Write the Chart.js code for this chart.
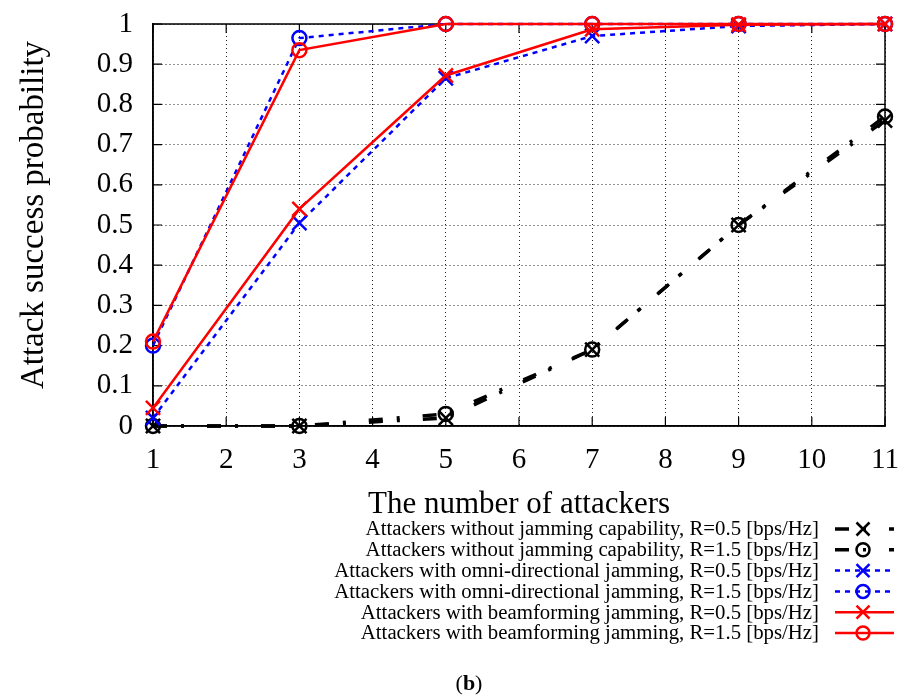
<!DOCTYPE html>
<html>
<head>
<meta charset="utf-8">
<script src="https://cdn.jsdelivr.net/npm/chart.js@4.4.1/dist/chart.umd.min.js"></script>
<style>
  html, body { margin: 0; padding: 0; background: #fff; }
  #wrap { position: relative; width: 908px; height: 697px; }
</style>
</head>
<body>
<div id="wrap"><canvas id="c" width="908" height="697"></canvas></div>
<script>
// ---- data ----
const xValues = [1, 3, 5, 7, 9, 11];
const noJamR05 = [0, 0, 0.02, 0.19, 0.50, 0.76];
const noJamR15 = [0, 0, 0.03, 0.19, 0.50, 0.77];
const omniR05  = [0.02, 0.505, 0.865, 0.97, 0.995, 1];
const omniR15  = [0.20, 0.965, 1, 1, 1, 1];
const beamR05  = [0.045, 0.54, 0.872, 0.987, 0.998, 1];
const beamR15  = [0.21, 0.935, 1, 1, 1, 1];
const xTickLabels = ['1','2','3','4','5','6','7','8','9','10','11'];
const yTickLabels = ['0','0.1','0.2','0.3','0.4','0.5','0.6','0.7','0.8','0.9','1'];
const seriesNames = [
  'Attackers without jamming capability, R=0.5 [bps/Hz]',
  'Attackers without jamming capability, R=1.5 [bps/Hz]',
  'Attackers with omni-directional jamming, R=0.5 [bps/Hz]',
  'Attackers with omni-directional jamming, R=1.5 [bps/Hz]',
  'Attackers with beamforming jamming, R=0.5 [bps/Hz]',
  'Attackers with beamforming jamming, R=1.5 [bps/Hz]'
];
const xTitle = 'The number of attackers';
const yTitle = 'Attack success probability';
const caption = 'b';

const SERIF = '"Liberation Serif", "DejaVu Serif", serif';
const BLACK = '#000000', BLUE = '#0000ff', RED = '#ff0000';

function pts(vals) { return vals.map((v, i) => ({ x: xValues[i], y: v })); }

function mk(label, vals, color, style, dash, width, order) {
  const r = style === 'circle' ? 7 : 10;
  return {
    label, data: pts(vals),
    borderColor: color, backgroundColor: 'rgba(0,0,0,0)',
    pointBorderColor: color, pointBackgroundColor: 'rgba(0,0,0,0)',
    pointStyle: style, pointRadius: r, pointBorderWidth: 2.5,
    pointHoverRadius: r,
    borderWidth: width, borderDash: dash, tension: 0, clip: false, order
  };
}

const DASHDOT = [14, 14, 3, 23];
const datasets = [
  mk(seriesNames[0], noJamR05, BLACK, 'crossRot', DASHDOT, 3.4, 2),
  mk(seriesNames[1], noJamR15, BLACK, 'circle',   DASHDOT, 3.4, 2),
  mk(seriesNames[2], omniR05,  BLUE,  'crossRot', [5, 5], 2.5, 1),
  mk(seriesNames[3], omniR15,  BLUE,  'circle',   [5, 5], 2.5, 1),
  mk(seriesNames[4], beamR05,  RED,   'crossRot', [], 2.5, 0),
  mk(seriesNames[5], beamR15,  RED,   'circle',   [], 2.5, 0)
];

const framePlugin = {
  id: 'frame',
  beforeDatasetsDraw(chart) {
    const { ctx, chartArea: a, scales: { x, y } } = chart;
    ctx.save();
    ctx.strokeStyle = '#000';
    ctx.lineWidth = 1.5;
    ctx.setLineDash([]);
    ctx.strokeRect(a.left, a.top, a.right - a.left, a.bottom - a.top);
    const t = 9;
    ctx.lineWidth = 1.2;
    ctx.beginPath();
    xTickLabels.forEach((lab) => {
      const px = x.getPixelForValue(Number(lab));
      ctx.moveTo(px, a.bottom); ctx.lineTo(px, a.bottom - t);
      ctx.moveTo(px, a.top); ctx.lineTo(px, a.top + t);
    });
    yTickLabels.forEach((lab) => {
      const py = y.getPixelForValue(Number(lab));
      ctx.moveTo(a.left, py); ctx.lineTo(a.left + t, py);
      ctx.moveTo(a.right, py); ctx.lineTo(a.right - t, py);
    });
    ctx.stroke();
    // y axis title
    ctx.fillStyle = '#000';
    ctx.font = '33px ' + SERIF;
    ctx.textAlign = 'center';
    ctx.textBaseline = 'middle';
    ctx.translate(34, 215);
    ctx.rotate(-Math.PI / 2);
    ctx.fillText(yTitle, 0, 0);
    ctx.restore();
  },
  afterDraw(chart) {
    const { ctx } = chart;
    ctx.save();
    // legend
    const textRight = 819, x0 = 835, x1 = 894, xm = 863;
    const rowTop = 529, rowStep = 20.8;
    ctx.font = '20.8px ' + SERIF;
    ctx.textAlign = 'right';
    ctx.textBaseline = 'middle';
    chart.data.datasets.forEach((ds, i) => {
      const yy = rowTop + i * rowStep;
      ctx.fillStyle = '#000';
      ctx.fillText(ds.label, textRight, yy + 1);
      ctx.strokeStyle = ds.borderColor;
      ctx.lineWidth = ds.borderWidth;
      ctx.setLineDash(ds.borderDash);
      ctx.lineDashOffset = 0;
      ctx.beginPath();
      ctx.moveTo(x0, yy); ctx.lineTo(x1, yy);
      ctx.stroke();
      ctx.setLineDash([]);
      ctx.lineWidth = ds.pointBorderWidth;
      ctx.beginPath();
      if (ds.pointStyle === 'circle') {
        ctx.arc(xm, yy, 6.5, 0, Math.PI * 2);
      } else {
        const d = 6.5;
        ctx.moveTo(xm - d, yy - d); ctx.lineTo(xm + d, yy + d);
        ctx.moveTo(xm - d, yy + d); ctx.lineTo(xm + d, yy - d);
      }
      ctx.stroke();
    });
    // caption
    ctx.textAlign = 'left';
    ctx.fillStyle = '#000';
    const F = '22px ' + SERIF, FB = 'bold 22px ' + SERIF;
    const capY = 684;
    ctx.font = F;
    const wOpen = ctx.measureText('(').width;
    const wClose = ctx.measureText(')').width;
    ctx.font = FB;
    const wB = ctx.measureText(caption).width;
    let cx = 469 - (wOpen + wB + wClose) / 2;
    ctx.font = F; ctx.fillText('(', cx, capY); cx += wOpen;
    ctx.font = FB; ctx.fillText(caption, cx, capY); cx += wB;
    ctx.font = F; ctx.fillText(')', cx, capY);
    ctx.restore();
  }
};

new Chart(document.getElementById('c'), {
  type: 'line',
  data: { datasets },
  options: {
    responsive: false,
    animation: false,
    devicePixelRatio: 1,
    layout: { padding: { top: 24, right: 23, left: 0, bottom: 174 } },
    plugins: { legend: { display: false }, tooltip: { enabled: false } },
    scales: {
      x: {
        type: 'linear', min: 1, max: 11,
        afterFit(s) { s.height = 97; s.paddingLeft = 0; s.paddingRight = 0; },
        afterBuildTicks(s) { s.ticks = xTickLabels.map(v => ({ value: Number(v) })); },
        ticks: {
          callback: (v, i) => xTickLabels[i],
          font: { family: SERIF, size: 29 }, color: '#000', padding: 17, maxRotation: 0
        },
        grid: { color: '#222', lineWidth: 1, drawTicks: false, tickLength: 0 },
        border: { display: true, color: '#000', width: 1.5, dash: [1, 3] },
        title: { display: true, text: xTitle, color: '#000',
                 font: { family: SERIF, size: 31 }, padding: { top: 0, bottom: 0 } }
      },
      y: {
        type: 'linear', min: 0, max: 1,
        afterFit(s) { s.width = 153; s.paddingTop = 0; s.paddingBottom = 0; },
        afterBuildTicks(s) { s.ticks = yTickLabels.map(v => ({ value: Number(v) })); },
        ticks: {
          callback: (v, i) => yTickLabels[i],
          font: { family: SERIF, size: 29 }, color: '#000', padding: 20
        },
        grid: { color: '#222', lineWidth: 1, drawTicks: false, tickLength: 0 },
        border: { display: true, color: '#000', width: 1.5, dash: [1, 3] },
        title: { display: false, text: yTitle }
      }
    }
  },
  plugins: [framePlugin]
});
</script>
</body>
</html>
